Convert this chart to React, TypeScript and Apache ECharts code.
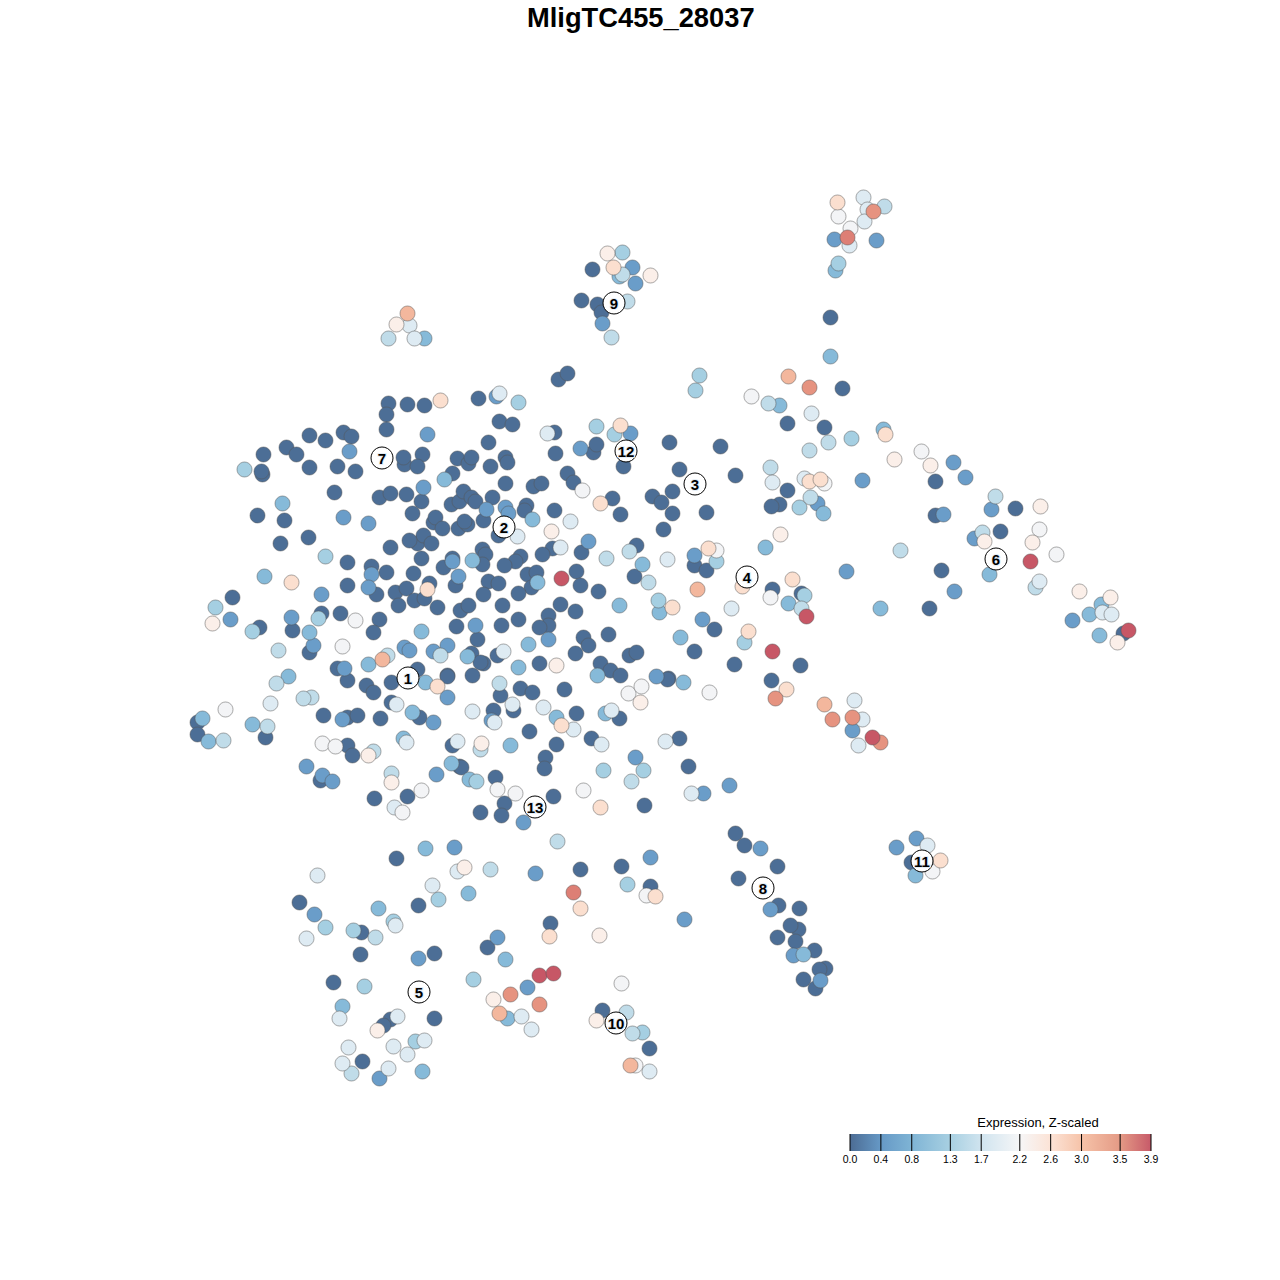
import React, { useEffect, useRef } from "react";
import * as echarts from "echarts";

type P = [number, number];

const titleText = "MligTC455_28037";
const legendTitle = "Expression, Z-scaled";
const legendValues = [0, 0.4, 0.8, 1.3, 1.7, 2.2, 2.6, 3.0, 3.5, 3.9];
const legendLabels = ["0.0", "0.4", "0.8", "1.3", "1.7", "2.2", "2.6", "3.0", "3.5", "3.9"];
const legendColors = ["#4c6c94", "#6699c6", "#7fb4d5", "#a8d0e2", "#d0e4ef", "#f6f6f7", "#fce3d6", "#f6c3a9", "#e49a85", "#c75a69"];

const dark: P[] = [
  [388,403],[407,404],[424,405],[386,414],[386,429],[309,435],[325,440],[343,432],[351,436],[286,447],[296,454],[263,454],
  [262,474],[261,471],[309,467],[337,466],[355,471],[404,464],[403,457],[422,454],[417,466],[457,458],[468,463],[471,457],
  [452,473],[334,492],[379,497],[390,493],[406,494],[421,501],[451,504],[459,501],[463,491],[471,497],[475,501],[412,513],
  [257,515],[284,520],[433,522],[435,517],[442,528],[458,528],[467,524],[464,521],[308,537],[280,543],[390,547],[417,543],
  [423,535],[409,540],[431,543],[421,558],[347,562],[371,566],[386,572],[452,558],[443,567],[413,573],[347,585],[376,594],
  [395,592],[406,588],[429,583],[455,585],[398,605],[414,600],[424,598],[437,607],[460,610],[468,605],[232,597],[321,613],
  [340,613],[379,619],[373,632],[259,627],[292,630],[456,626],[309,652],[337,668],[347,680],[478,398],[558,379],[567,373],
  [499,421],[512,424],[554,432],[488,442],[555,453],[505,457],[507,462],[490,466],[593,452],[596,444],[623,466],[669,442],
  [679,469],[567,473],[573,482],[505,483],[533,486],[541,483],[612,498],[652,496],[672,491],[661,502],[672,513],[620,514],
  [554,510],[492,497],[483,520],[526,505],[524,510],[498,535],[663,529],[636,545],[552,548],[542,554],[581,552],[482,549],
  [485,554],[482,564],[520,556],[515,561],[504,565],[527,574],[536,572],[576,571],[634,576],[488,581],[498,583],[531,587],
  [518,593],[483,594],[580,585],[598,591],[502,605],[560,604],[575,611],[518,619],[548,615],[548,625],[539,627],[501,625],
  [477,639],[583,637],[588,645],[608,634],[575,653],[539,663],[483,663],[471,653],[497,655],[629,655],[636,652],[600,663],
  [610,670],[620,675],[694,651],[694,565],[417,669],[447,675],[472,675],[668,678],[197,722],[197,734],[265,737],[323,715],
  [347,717],[357,715],[380,718],[391,702],[366,685],[373,692],[391,682],[447,676],[419,717],[347,745],[352,755],[320,780],
  [374,798],[407,796],[452,745],[459,766],[480,812],[480,662],[714,629],[734,664],[667,679],[520,688],[532,692],[564,689],
  [500,695],[493,710],[513,710],[576,713],[619,718],[529,731],[591,738],[556,744],[679,738],[545,757],[544,768],[688,766],
  [495,777],[461,767],[553,796],[504,803],[501,815],[644,805],[830,317],[842,388],[787,423],[824,427],[720,446],[735,475],
  [935,481],[787,490],[779,504],[771,506],[706,512],[706,570],[772,589],[801,593],[800,665],[771,680],[1015,508],[935,515],
  [1000,531],[941,570],[929,608],[1123,633],[396,858],[580,869],[418,905],[299,902],[361,932],[550,923],[487,947],[434,953],
  [360,954],[333,982],[390,1019],[383,1025],[434,1018],[362,1061],[621,866],[650,886],[602,1010],[649,1048],[735,833],
  [744,845],[777,866],[738,878],[778,905],[799,908],[798,929],[790,925],[777,937],[795,941],[814,950],[825,968],[819,969],
  [803,979],[815,988],[592,269],[581,300],[597,304],[601,312],[911,862],
];
const blue: P[] = [
  [427,434],[349,451],[423,487],[343,517],[368,523],[452,561],[371,574],[368,587],[458,576],[321,594],[291,617],[230,619],
  [475,625],[313,645],[344,668],[404,647],[409,650],[433,651],[447,645],[496,396],[580,448],[630,433],[486,509],[505,507],
  [508,513],[588,541],[548,639],[694,555],[702,619],[656,676],[447,697],[342,719],[433,722],[306,766],[322,775],[332,781],
  [436,774],[491,720],[635,757],[703,793],[729,785],[523,822],[834,239],[876,240],[953,462],[965,477],[862,480],[817,503],
  [991,509],[943,514],[974,538],[846,571],[954,591],[1072,620],[852,730],[454,847],[535,873],[314,914],[497,937],[418,958],
  [527,987],[379,1078],[650,857],[684,919],[760,848],[770,909],[793,955],[820,980],[632,267],[635,283],[602,323],[916,838],
  [896,847],
];
const sky: P[] = [
  [444,479],[282,503],[264,576],[472,560],[309,632],[368,664],[467,656],[288,676],[532,519],[537,582],[642,564],[619,605],
  [659,612],[421,631],[528,644],[680,637],[518,667],[597,675],[683,682],[425,682],[412,712],[202,718],[252,724],[208,741],
  [403,738],[451,763],[469,779],[556,717],[605,713],[510,745],[835,270],[830,356],[779,405],[883,429],[823,513],[765,547],
  [788,603],[989,574],[880,608],[1101,604],[1089,614],[1099,635],[425,848],[468,893],[378,908],[505,959],[342,1006],
  [507,1018],[422,1071],[803,954],[424,338],[915,875],[619,276],
];
const pale: P[] = [
  [244,469],[325,556],[215,607],[318,618],[252,631],[518,402],[596,426],[614,434],[658,600],[695,390],[699,375],[744,642],[603,770],
  [476,781],[643,770],[838,263],[851,438],[799,507],[716,561],[804,595],[438,899],[325,927],[353,930],[393,921],[364,986],
  [473,979],[415,1041],[627,884],[642,1032],[622,252],
];
const ice: P[] = [
  [278,650],[440,655],[387,655],[606,558],[648,582],[629,551],[276,683],[311,697],[303,698],[267,726],[223,740],[373,751],
  [391,773],[499,683],[631,781],[480,749],[557,841],[884,206],[768,403],[828,442],[809,450],[770,467],[810,497],[995,496],
  [982,532],[900,550],[801,608],[1035,587],[490,869],[375,937],[351,1073],[626,1012],[632,1033],[622,274],[627,301],
  [611,337],[388,338],
];
const mist: P[] = [
  [499,393],[547,433],[570,521],[517,536],[560,547],[667,559],[503,651],[270,703],[396,704],[472,711],[406,742],[457,741],
  [394,807],[731,608],[512,704],[543,707],[494,722],[573,729],[611,710],[601,744],[665,741],[691,793],[863,197],
  [867,209],[864,221],[849,245],[811,413],[772,482],[804,478],[1039,581],[1102,612],[1111,614],[854,700],[862,719],[858,745],
  [317,875],[457,871],[432,885],[306,938],[395,925],[339,1018],[397,1016],[521,1016],[531,1029],[348,1047],[393,1046],
  [424,1040],[407,1054],[342,1063],[388,1068],[649,1071],[409,325],[414,338],[927,845],
];
const snow: P[] = [
  [582,490],[225,709],[355,620],[342,646],[322,743],[335,746],[421,790],[402,812],[628,693],[641,686],[709,692],[497,789],
  [515,793],[583,790],[838,216],[850,228],[751,396],[921,451],[824,483],[716,550],[770,597],[1039,529],[1056,554],[646,895],
  [621,983],[635,1065],[932,871],
];
const blush: P[] = [
  [551,531],[212,623],[368,755],[391,782],[481,743],[640,702],[556,665],[894,459],[930,465],[780,534],[1040,506],[984,541],
  [1032,542],[1079,591],[1110,597],[1117,642],[464,867],[493,999],[377,1030],[599,935],[596,1020],[607,253],[650,275],[396,324],
];
const peach: P[] = [
  [440,400],[291,582],[427,589],[620,425],[600,503],[672,607],[748,631],[561,725],[600,807],[437,686],[837,202],[885,434],
  [809,481],[820,479],[708,548],[792,579],[742,586],[786,689],[549,936],[580,908],[655,896],[613,267],[940,860],
];
const salmon: P[] = [[382,659],[697,589],[788,376],[824,704],[499,1013],[630,1065],[407,313]];
const coral: P[] = [[873,211],[809,387],[775,698],[832,719],[852,717],[880,742],[510,994],[539,1004]];
const rose: P[] = [[847,237],[573,892]];
const crimson: P[] = [[561,578],[806,616],[772,651],[872,737],[1030,561],[1128,630],[539,975],[553,973]];

const levels: [string, string, P[]][] = [
  ["0.1", "#4c6e96", dark],
  ["0.6", "#6a9dc9", blue],
  ["1.0", "#86bad9", sky],
  ["1.3", "#a5cfe2", pale],
  ["1.55", "#c0dce9", ice],
  ["1.85", "#deebf3", mist],
  ["2.1", "#f3f4f6", snow],
  ["2.4", "#fbefe9", blush],
  ["2.7", "#fbdfcf", peach],
  ["3.1", "#f3b79d", salmon],
  ["3.4", "#e69380", coral],
  ["3.6", "#dd7f75", rose],
  ["3.9", "#c75766", crimson],
];

const clusterLabels = ["1", "2", "3", "4", "5", "6", "7", "8", "9", "10", "11", "12", "13"];
const clusterX = [407.5, 503.5, 694.5, 746.5, 418.5, 995.5, 381.5, 762.5, 613.5, 615.5, 921.5, 625.5, 534.5];
const clusterY = [677.5, 526.5, 483.5, 576.5, 991.5, 558.5, 457.5, 887.5, 302.5, 1022.5, 860.5, 450.5, 806.5];

const FONT = "'Liberation Sans', Arial, sans-serif";
const BAR_L = 850;
const BAR_W = 301;
const BAR_T = 1134;
const BAR_H = 17;
const maxV = legendValues[legendValues.length - 1];
const posOf = (v: number) => BAR_L + (v / maxV) * BAR_W;

export default function App() {
  const ref = useRef<HTMLDivElement>(null);
  useEffect(() => {
    const chart = echarts.init(ref.current!, undefined, { renderer: "svg" });
    const series: any[] = levels.map(([name, color, pts]) => ({
      name,
      type: "scatter",
      data: pts,
      symbol: "circle",
      symbolSize: 15,
      silent: true,
      itemStyle: { color, opacity: 1, borderColor: "rgba(85,85,85,0.5)", borderWidth: 1 },
    }));
    series.push({
      name: "clusters",
      type: "scatter",
      z: 10,
      symbol: "circle",
      symbolSize: 22,
      silent: true,
      data: clusterLabels.map((l, i) => ({ value: [clusterX[i], clusterY[i]], name: l })),
      itemStyle: { color: "#ffffff", opacity: 1, borderColor: "#000000", borderWidth: 1 },
      label: {
        show: true,
        position: "inside",
        formatter: (p: any) => p.name,
        color: "#000000",
        fontFamily: FONT,
        fontWeight: "bold",
        fontSize: 15,
        textBorderColor: "#e4edf5",
        textBorderWidth: 2,
      },
    });

    const graphic: any[] = [
      {
        type: "rect",
        shape: { x: BAR_L, y: BAR_T, width: BAR_W, height: BAR_H },
        style: {
          fill: {
            type: "linear", x: 0, y: 0, x2: 1, y2: 0,
            colorStops: legendValues.map((v, i) => ({ offset: v / maxV, color: legendColors[i] })),
          },
        },
      },
      {
        type: "text", x: 1038, y: 1122.5,
        style: { text: legendTitle, fontSize: 13, fontFamily: FONT, fill: "#000", align: "center", verticalAlign: "middle" },
      },
      ...legendValues.map((v) => ({
        type: "line",
        shape: { x1: posOf(v), y1: BAR_T, x2: posOf(v), y2: BAR_T + BAR_H },
        style: { stroke: "#000", lineWidth: 1 },
      })),
      ...legendValues.map((v, i) => ({
        type: "text", x: posOf(v), y: 1159,
        style: { text: legendLabels[i], fontSize: 10.5, fontFamily: FONT, fill: "#000", align: "center", verticalAlign: "middle" },
      })),
    ];

    chart.setOption({
      animation: false,
      backgroundColor: "#ffffff",
      title: {
        text: titleText,
        left: 522,
        top: -1,
        textStyle: { fontSize: 27.3, fontWeight: "bold", fontFamily: FONT, color: "#000" },
      },
      grid: { left: 0, right: 0, top: 0, bottom: 0 },
      xAxis: { type: "value", min: -0.5, max: 1279.5, show: false },
      yAxis: { type: "value", min: -0.5, max: 1279.5, inverse: true, show: false },
      graphic,
      series,
    });
    return () => chart.dispose();
  }, []);
  return <div ref={ref} style={{ position: "absolute", left: 0, top: 0, width: 1280, height: 1280 }} />;
}
